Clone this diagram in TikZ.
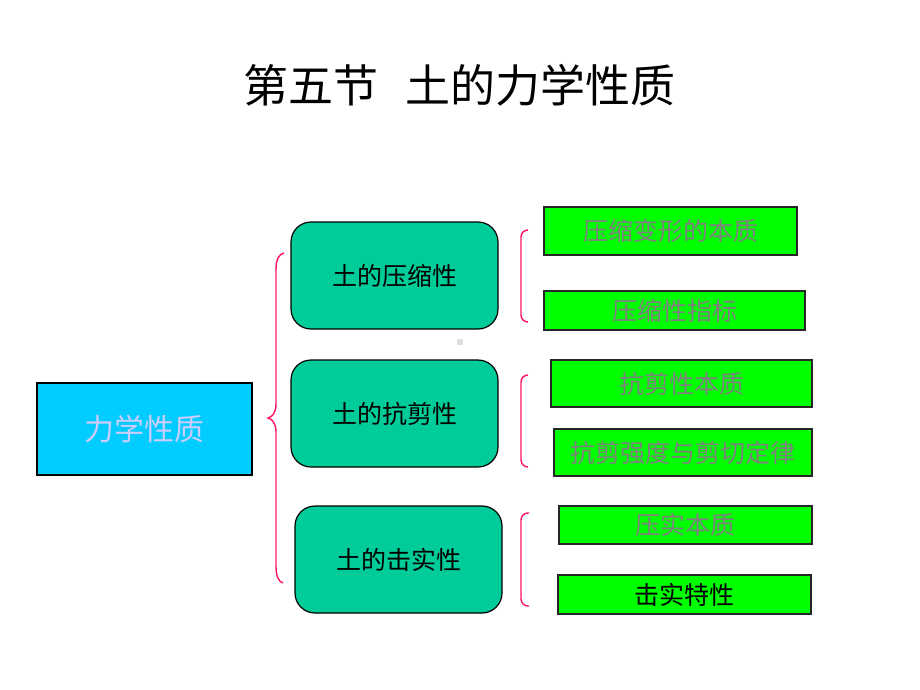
\documentclass[tikz,border=0pt]{standalone}
\usepackage{fontspec}
\newfontfamily\cjk{Noto Sans CJK SC}
\definecolor{cyanbox}{RGB}{0,204,255}
\definecolor{tealbox}{RGB}{0,204,153}
\definecolor{greenbox}{RGB}{0,255,0}
\definecolor{lav}{RGB}{204,204,255}
\definecolor{txtgray}{RGB}{128,128,128}
\definecolor{brace}{RGB}{255,20,100}
\tikzset{
  mainbox/.style={draw=black, line width=1.5pt, fill=cyanbox, outer sep=0pt, inner sep=0pt,
    text=lav, font=\cjk\fontsize{30}{30}\selectfont},
  subbox/.style={draw=black, line width=1.2pt, fill=tealbox, rounded corners=20pt, outer sep=0pt, inner sep=0pt,
    text=black, minimum width=207pt, minimum height=107pt, font=\cjk\fontsize{25}{25}\selectfont},
  leafbox/.style={draw=black!85, line width=1.6pt, fill=greenbox, outer sep=0pt, inner sep=0pt,
    text=txtgray, font=\cjk\fontsize{25}{25}\selectfont},
  bracepath/.style={draw=brace, line width=1.4pt},
}
\begin{document}
\begin{tikzpicture}[x=1pt,y=-1pt]
\useasboundingbox[fill=white] (0,0) rectangle (920,690);
\node[font=\cjk\fontsize{45}{45}\selectfont] (title) at (459.5,85) {第五节\hspace{0.6em}土的力学性质};
\node[mainbox, minimum width=215pt, minimum height=92pt] (L) at (144.5,429) {力学性质};
\node[subbox] (A1) at (394.5,275.5) {土的压缩性};
\node[subbox] (A2) at (394.5,413.5) {土的抗剪性};
\node[subbox] (A3) at (398.5,559.5) {土的击实性};
\node[leafbox, minimum width=253pt, minimum height=48pt] (G1) at (670.5,231) {压缩变形的本质};
\node[leafbox, minimum width=261pt, minimum height=39pt] (G2) at (674.5,310.5) {压缩性指标};
\node[leafbox, minimum width=261pt, minimum height=47pt] (G3) at (681.5,383.5) {抗剪性本质};
\node[leafbox, minimum width=258pt, minimum height=47pt] (G4) at (683,452.5) {抗剪强度与剪切定律};
\node[leafbox, minimum width=253pt, minimum height=38pt] (G5) at (685.5,525) {压实本质};
\node[leafbox, minimum width=253pt, minimum height=39pt, text=black] (G6) at (684.5,594.5) {击实特性};
\node[fill=black!13, minimum size=6pt, inner sep=0pt] (dot) at (460,342) {};
% big brace
\draw[bracepath] (284,253) .. controls (279,254) and (276,259) .. (276,270) -- (276,404)
  .. controls (276,413) and (272,417) .. (268,418)
  .. controls (272,419) and (276,423) .. (276,432) -- (276,566)
  .. controls (276,577) and (279,582) .. (283,583);
% small brackets
\draw[bracepath, rounded corners=7pt] (528,230) -- (521,230) -- (521,322) -- (528,322);
\draw[bracepath, rounded corners=7pt] (528,375) -- (521,375) -- (521,467) -- (528,467);
\draw[bracepath, rounded corners=7pt] (529,513) -- (521,513) -- (521,606) -- (529,606);
\end{tikzpicture}
\end{document}
